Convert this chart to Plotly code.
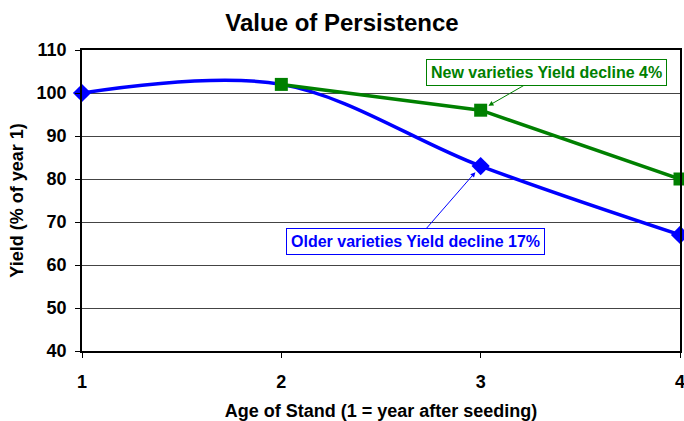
import plotly.graph_objects as go

title = "Value of Persistence"
x_title = "Age of Stand (1 = year after seeding)"
y_title = "Yield (% of year 1)"

older_x = [1, 2, 3, 4]
older_y = [100, 102, 83, 67]
older_marker_x = [1, 3, 4]
older_marker_y = [100, 83, 67]

new_x = [2, 3, 4]
new_y = [102, 96, 80]

y_ticks = [40, 50, 60, 70, 80, 90, 100, 110]
x_ticks = [1, 2, 3, 4]

blue = "#0000FF"
green = "#008000"
font_family = "Arial, Liberation Sans, sans-serif"

fig = go.Figure()
fig.add_trace(go.Scatter(x=older_x, y=older_y, mode="lines",
                         line=dict(color=blue, width=3.5, shape="spline", smoothing=1.0),
                         cliponaxis=False, showlegend=False))
fig.add_trace(go.Scatter(x=older_marker_x, y=older_marker_y, mode="markers",
                         marker=dict(symbol="diamond", size=14, color=blue),
                         cliponaxis=False, showlegend=False))
fig.add_trace(go.Scatter(x=new_x, y=new_y, mode="lines+markers",
                         line=dict(color=green, width=3.5),
                         marker=dict(symbol="square", size=13, color=green),
                         cliponaxis=False, showlegend=False))

fig.add_annotation(x=3, y=96, xref="x", yref="y", ax=3.330, ay=104.77, axref="x", ayref="y",
                   text="<b>New varieties Yield decline 4%</b>", showarrow=True,
                   arrowhead=2, arrowsize=1, arrowwidth=1, arrowcolor=green, standoff=9,
                   font=dict(family=font_family, size=16, color=green),
                   bgcolor="white", bordercolor=green, borderwidth=1, borderpad=4)
fig.add_annotation(x=3, y=83, xref="x", yref="y", ax=2.6706, ay=65.47, axref="x", ayref="y",
                   text="<b>Older varieties Yield decline 17%</b>", showarrow=True,
                   arrowhead=2, arrowsize=1, arrowwidth=1, arrowcolor=blue, standoff=8,
                   font=dict(family=font_family, size=16, color=blue),
                   bgcolor="white", bordercolor=blue, borderwidth=1, borderpad=4)

fig.update_layout(
    width=684, height=421,
    margin=dict(l=82, r=4, t=50, b=70, autoexpand=False),
    paper_bgcolor="white", plot_bgcolor="white",
    font=dict(family=font_family, color="black"),
    title=dict(text="<b>" + title + "</b>", x=0.5, xanchor="center", y=1 - 23 / 421, yanchor="middle",
               font=dict(size=24, family=font_family, color="black")),
    xaxis=dict(range=[1, 4], tickvals=x_ticks, ticktext=["<b>%d</b>" % v for v in x_ticks],
               showgrid=False, zeroline=False, automargin=False, ticklabeloverflow="allow",
               showline=True, linecolor="black", linewidth=1.5, mirror=True,
               ticks="outside", ticklen=5, tickcolor="black", ticklabelstandoff=9,
               tickfont=dict(size=18, family=font_family, color="black"),
               title=dict(text="<b>" + x_title + "</b>", standoff=14,
                          font=dict(size=18, family=font_family, color="black"))),
    yaxis=dict(range=[40, 110], tickvals=y_ticks, ticktext=["<b>%d</b>" % v for v in y_ticks],
               showgrid=True, gridcolor="#444444", gridwidth=1, zeroline=False, automargin=False,
               showline=True, linecolor="black", linewidth=1.5, mirror=True,
               ticks="outside", ticklen=5, tickcolor="black", ticklabelstandoff=5,
               tickfont=dict(size=18, family=font_family, color="black"),
               title=dict(text="<b>" + y_title + "</b>", standoff=8,
                          font=dict(size=18, family=font_family, color="black"))),
)

fig.write_html("out.html", config={"displayModeBar": False},
               post_script="document.body.style.margin='0';document.body.style.overflow='hidden';")
